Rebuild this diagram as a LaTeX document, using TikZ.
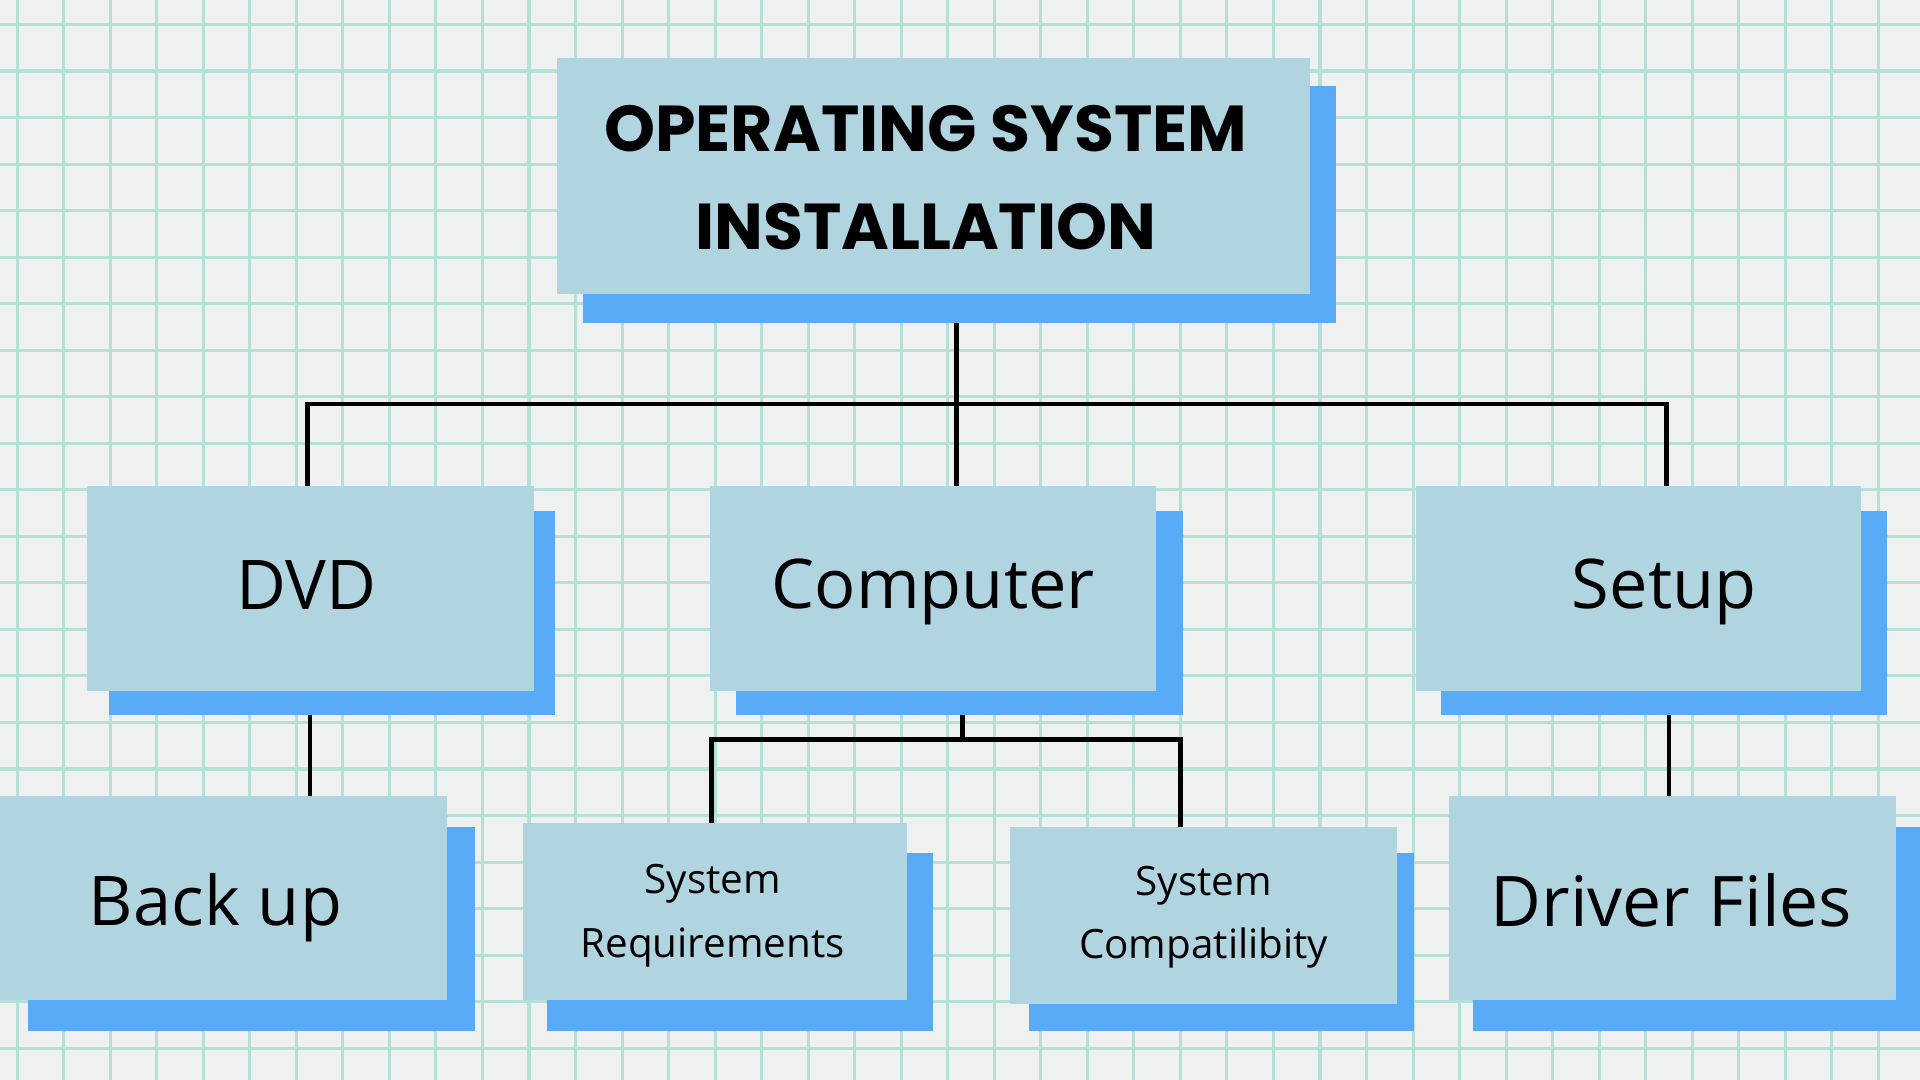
\documentclass[tikz,border=0pt]{standalone}
\usepackage{fontspec}
\setmainfont{Open Sans}
\newfontfamily\titlefont{Poppins}
\definecolor{boxc}{HTML}{B1D4E1}
\definecolor{shadc}{HTML}{5AABF7}
\definecolor{paper}{HTML}{EEF1EF}
\definecolor{gridc}{HTML}{B5E0D8}
\begin{document}
\begin{tikzpicture}[x=1pt,y=-1pt,
  box/.style={fill=boxc,draw=none,inner sep=0pt,align=center},
  shad/.style={fill=shadc,draw=none},
  conn/.style={line width=3.6pt,black}]
\useasboundingbox (0,0) rectangle (1568,882);
\fill[paper] (0,0) rectangle (1568,882);
\foreach \i in {0,...,41} {\draw[gridc,line width=2.5pt] (\i*38+14,0) -- (\i*38+14,882);}
\foreach \j in {0,...,23} {\draw[gridc,line width=2.5pt] (0,\j*38+20) -- (1568,\j*38+20);}
% shadows
\fill[shad] (476,70) rectangle (1091,264);
\fill[shad] (89,417) rectangle (453,584);
\fill[shad] (601,417) rectangle (966,584);
\fill[shad] (1177,417) rectangle (1541,584);
\fill[shad] (23,675) rectangle (388,842);
\fill[shad] (447,697) rectangle (762,842);
\fill[shad] (840,697) rectangle (1155,842);
\fill[shad] (1203,675) rectangle (1568,842);
% boxes
\fill[boxc] (455,47) rectangle (1070,240);
\node[font=\titlefont\bfseries\fontsize{53}{80}\selectfont,align=center] (title) at (756,145) {OPERATING SYSTEM\\INSTALLATION};
\fill[boxc] (71,397) rectangle (436,564);
\node[font=\fontsize{56}{60}\selectfont] (dvd) at (250,478) {DVD};
\fill[boxc] (580,397) rectangle (944,564);
\node[font=\fontsize{56}{60}\selectfont] (comp) at (762,483) {Computer};
\fill[boxc] (1156,397) rectangle (1520,564);
\node[font=\fontsize{56}{60}\selectfont] (setup) at (1359,483) {Setup};
\fill[boxc] (0,650) rectangle (365,817);
\node[font=\fontsize{56}{60}\selectfont] (backup) at (176,741) {Back up};
\fill[boxc] (427,672) rectangle (741,817);
\node[font=\fontsize{33}{52}\selectfont,align=center] (req) at (582,748) {System\\Requirements};
\fill[boxc] (825,675) rectangle (1141,820);
\node[font=\fontsize{33}{52}\selectfont,align=center] (compat) at (983,749) {System\\Compatilibity};
\fill[boxc] (1183,650) rectangle (1548,817);
\node[font=\fontsize{57}{60}\selectfont] (driver) at (1365,735) {Driver Files};
% connectors
\coordinate (t0) at (781,264); \coordinate (t1) at (781,330);
\coordinate (l1) at (251,330); \coordinate (r1) at (1361,330);
\coordinate (l2) at (251,397); \coordinate (m2) at (781,397); \coordinate (r2) at (1361,397);
\draw[conn] (t0) -- (m2);
\draw[conn] (l2) -- (l1) -- (r1) -- (r2);
\coordinate (d0) at (253,584); \coordinate (d1) at (253,650);
\draw[conn] (d0) -- (d1);
\coordinate (c0) at (786,584); \coordinate (c1) at (786,604);
\coordinate (cl) at (581,604); \coordinate (cr) at (964,604);
\coordinate (cl2) at (581,672); \coordinate (cr2) at (964,675);
\draw[conn] (c0) -- (c1);
\draw[conn] (cl2) -- (cl) -- (cr) -- (cr2);
\coordinate (s0) at (1363,584); \coordinate (s1) at (1363,650);
\draw[conn] (s0) -- (s1);
\end{tikzpicture}
\end{document}
